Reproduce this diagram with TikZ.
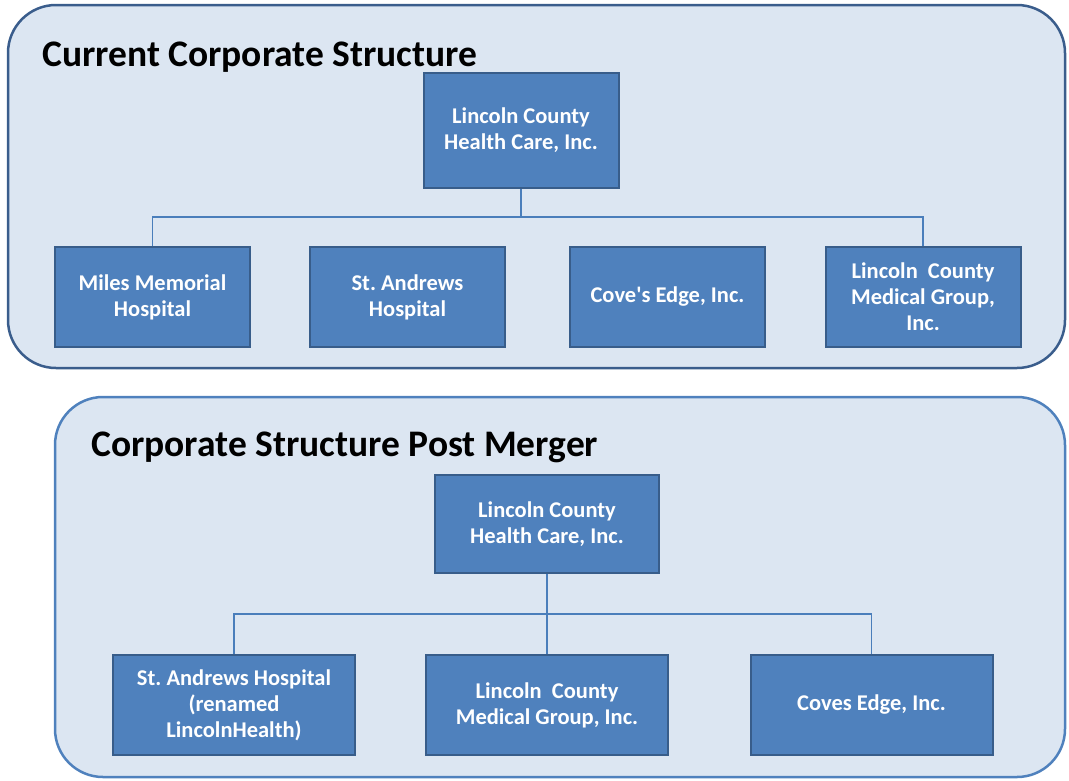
\documentclass[tikz,border=0pt]{standalone}
\usepackage{fontspec}
\setmainfont{Carlito}
\usepackage{tikz}
\usetikzlibrary{positioning}
\definecolor{panelfill}{RGB}{220,230,242}
\definecolor{panelline}{RGB}{58,93,140}
\definecolor{panellinetwo}{RGB}{79,129,189}
\definecolor{unitfill}{RGB}{79,129,189}
\definecolor{unitline}{RGB}{56,93,138}
\definecolor{linkcol}{RGB}{74,126,187}
\frenchspacing
\tikzset{basic/.style={draw=unitline,fill=unitfill,line width=2pt,
                       text=white,align=center,inner sep=0pt,
                       font=\fontsize{22.5}{26}\selectfont\bfseries}}
\tikzset{unit/.style={basic,minimum width=195pt,minimum height=100pt}}

\begin{document}
\begin{tikzpicture}[x=1pt,y=-1pt,
      % styles for clarity
      panel/.style ={draw=panelline, fill=panelfill, line width=2.5pt, rounded corners=48pt},
      title/.style ={anchor=base west, inner sep=0pt, font=\fontsize{37.5}{42}\selectfont\bfseries},
      wide/.style  ={basic, minimum width=242pt, minimum height=100pt},
      link/.style  ={draw=linkcol, line width=1.3pt}
    ]
    \useasboundingbox (0,0) rectangle (1069,780);

    % the two panels
    \draw[panel] (8,5) rectangle (1065,368);
    \draw[panel, draw=panellinetwo] (55,397) rectangle (1065,777);

    % current structure
    \node[title] (head1) at (42,66) {Current Corporate Structure};
    \node[unit, minimum height=115pt] (root1) at (521,130.5) {Lincoln County\\Health Care, Inc.};
    \foreach \i/\x/\txt in {1/152.5/{Miles Memorial\\Hospital},
                            2/407.5/{St. Andrews\\Hospital},
                            3/667.5/{Cove\textquotesingle s Edge, Inc.},
                            4/923/{Lincoln\ \ County\\Medical Group,\\Inc.}}{
      \node[unit] (c\i) at (\x,297) {\txt};
    }
    \coordinate (j1) at (521,217);
    \draw[link] (root1.south) -- (j1);
    \draw[link] (c1.north) |- (j1) -| (c4.north);

    % structure after the merger
    \node[title] (head2) at (91,456) {Corporate Structure Post Merger};
    \node[basic, minimum width=224pt, minimum height=98pt] (root2) at (547,524) {Lincoln County\\Health Care, Inc.};
    \foreach \i/\x/\txt in {1/234/{St. Andrews Hospital\\(renamed\\LincolnHealth)},
                            2/547/{Lincoln\ \ County\\Medical Group, Inc.},
                            3/871.5/{Coves Edge, Inc.}}{
      \node[wide] (b\i) at (\x,705) {\txt};
    }
    \coordinate (j2) at (547,614);
    \draw[link] (root2.south) -- (b2.north);
    \draw[link] (b1.north) |- (j2) -| (b3.north);
  \end{tikzpicture}
\end{document}
